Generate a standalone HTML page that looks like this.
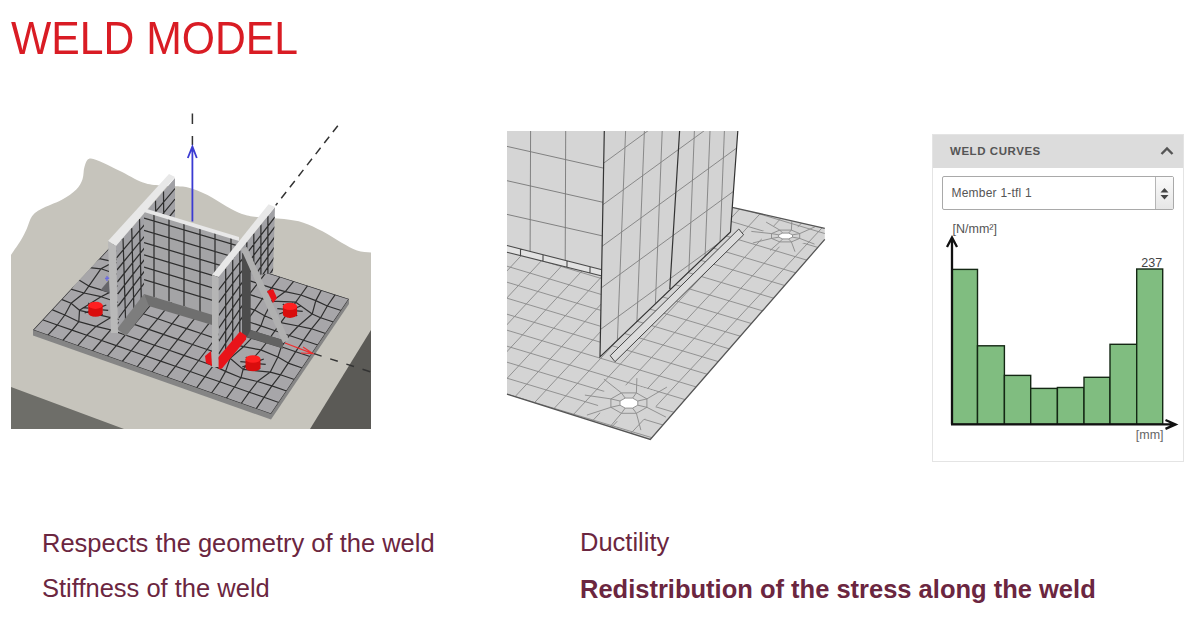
<!DOCTYPE html>
<html><head><meta charset="utf-8">
<style>
html,body{margin:0;padding:0;background:#fff;width:1200px;height:630px;overflow:hidden;position:relative;font-family:"Liberation Sans",sans-serif;}
.abs{position:absolute;}
#title{left:11px;top:11.5px;font-size:46.5px;color:#d91c24;line-height:52px;white-space:nowrap;transform:scaleX(0.918);transform-origin:0 0;}
.txt{position:absolute;font-size:25.5px;color:#6b2640;line-height:30px;white-space:nowrap;}
#panel{left:932px;top:134px;width:250px;height:326px;border:1px solid #e4e4e4;background:#fff;}
#phead{left:0;top:0;width:250px;height:33px;background:#dcdcdc;}
#phead span{position:absolute;left:17px;top:10px;font-size:11.5px;font-weight:bold;color:#555;letter-spacing:0.55px;}
#sel{left:9px;top:41px;width:230px;height:32px;border:1px solid #a9a9a9;border-radius:2px;background:#fff;}
#sel span{position:absolute;left:8.5px;top:8.5px;font-size:12px;color:#555;letter-spacing:0.22px;}
#selbtn{position:absolute;right:0;top:0;width:17px;height:32px;border-left:1px solid #b5b5b5;background:linear-gradient(#fafafa,#e6e6e6);}
</style></head><body>
<svg class="abs" style="left:0;top:0;filter:blur(0.45px)" width="400" height="450" viewBox="0 0 400 450">
<defs><clipPath id="lclip"><rect x="11" y="100" width="360" height="329"/></clipPath></defs>
<g clip-path="url(#lclip)">
<path d="M6.0 262.0C6.9 260.7 8.8 258.1 11.3 254.4C13.8 250.7 18.4 244.3 21.0 240.0C23.6 235.7 25.0 232.6 26.8 228.7C28.6 224.8 29.6 219.6 32.0 216.3C34.4 213.0 36.2 211.8 41.2 209.0C46.2 206.2 56.0 203.1 61.9 199.8C67.8 196.6 72.9 192.9 76.3 189.5C79.7 186.1 81.1 183.0 82.5 179.2C83.9 175.4 83.3 170.2 84.5 166.8C85.7 163.4 86.6 159.3 89.7 158.6C92.8 157.9 98.0 160.6 103.0 162.7C108.0 164.8 113.3 167.7 120.0 171.0C126.7 174.3 136.3 180.1 143.0 182.5C149.7 184.9 154.7 184.9 160.0 185.5C165.3 186.1 170.3 186.0 175.0 186.3C179.7 186.6 182.6 186.1 188.0 187.5C193.4 188.9 201.1 191.8 207.5 195.0C213.9 198.2 220.9 203.2 226.7 206.4C232.4 209.6 236.9 212.2 242.0 214.0C247.1 215.8 250.0 216.2 257.0 217.0C264.0 217.8 276.3 218.1 284.0 219.0C291.7 219.9 297.0 220.6 303.4 222.7C309.8 224.8 316.1 228.0 322.5 231.3C328.9 234.7 335.9 239.6 341.7 242.8C347.4 246.0 352.1 248.9 357.0 250.5C361.9 252.1 367.2 252.0 371.0 252.4C374.8 252.8 378.5 252.9 380.0 253.0L380 440L0 440Z" fill="#c6c4bc"/>
<polygon points="11.0,387.0 124.0,429.0 11.0,429.0" fill="#6e6e69"/>
<polygon points="371.0,330.0 371.0,429.0 310.0,429.0" fill="#5b5a56"/>
<polygon points="33.0,330.0 33.0,335.5 271.0,419.5 349.0,304.0 349.0,299.0 128.0,228.0" fill="#858585"/>
<polygon points="33.0,330.0 271.0,414.0 349.0,299.0 128.0,228.0" fill="#a7a6a9"/>
<clipPath id="c1"><polygon points="33.0,330.0 271.0,414.0 349.0,299.0 128.0,228.0"/></clipPath><g clip-path="url(#c1)"><path d="M8.5 334.9L18.1 324.8L27.7 314.6L37.3 304.5L46.9 294.4L56.6 284.3L66.2 274.2L75.8 264.0L85.4 253.9L95.0 243.8L104.6 233.7L114.2 223.6L123.8 213.4M23.5 340.2L33.0 330.0L42.5 319.8L52.0 309.6L61.5 299.4L71.0 289.2L77.4 279.0L87.4 267.3L99.5 258.6L109.0 248.4L118.5 238.2L128.0 228.0L137.5 217.8M38.5 345.5L47.9 335.2L57.3 325.0L64.8 315.0L71.1 303.2L84.0 293.0L88.8 286.1L100.9 268.8L114.1 261.9L123.0 253.0L132.4 242.7L141.8 232.4L151.2 222.2M53.5 350.9L62.8 340.5L72.0 330.1L78.8 321.7L79.5 310.3L101.0 296.7L109.6 292.4L127.6 277.7L129.8 266.8L137.1 257.6L146.3 247.2L155.6 236.9L164.9 226.5M68.4 356.2L77.6 345.8L86.8 335.3L96.0 326.4L110.8 317.6L119.3 302.7L124.6 294.5L136.2 283.7L142.0 272.6L151.1 262.2L160.3 251.8L169.4 241.3L178.6 230.9M83.4 361.5L92.5 351.0L101.6 340.5L110.7 329.9L121.3 320.1L129.8 308.9L137.9 298.4L146.9 287.9L156.0 277.3L165.1 266.8L174.2 256.3L183.2 245.8L192.3 235.2M98.4 366.9L107.4 356.2L116.3 345.6L125.3 335.0L134.3 324.4L143.2 313.8L152.2 303.2L161.2 292.6L170.2 282.0L179.1 271.4L188.1 260.8L197.1 250.2L206.0 239.6M113.4 372.2L122.2 361.5L131.1 350.8L140.0 340.1L148.8 329.4L157.7 318.8L166.6 308.1L175.4 297.4L184.3 286.7L193.2 276.0L202.0 265.3L210.9 254.6L219.7 243.9M128.4 377.5L137.1 366.8L145.9 356.0L154.6 345.2L163.4 334.4L172.2 323.7L180.9 312.9L189.7 302.1L198.4 291.4L207.2 280.6L215.9 269.8L224.7 259.1L233.4 248.3M143.3 382.9L152.0 372.0L160.7 361.1L169.3 350.3L177.9 339.4L186.6 328.6L195.2 317.8L203.9 306.9L212.6 296.1L221.2 285.2L229.9 274.4L238.5 263.5L247.2 252.6M158.3 388.2L166.9 377.2L175.4 366.3L184.0 355.4L192.5 344.5L201.1 333.5L209.6 322.6L218.1 311.7L226.7 300.7L235.2 289.8L243.8 278.9L252.3 267.9L260.9 257.0M173.3 393.5L181.8 382.5L190.2 371.5L198.6 360.5L207.1 349.5L215.5 338.4L223.9 327.4L232.4 316.4L240.8 305.4L249.2 294.4L257.7 283.4L266.1 272.4L274.6 261.4M188.3 398.8L196.6 387.8L205.0 376.7L213.3 365.6L221.3 354.4L229.9 343.4L238.3 332.3L246.6 321.2L254.6 310.1L262.5 298.7L271.6 287.9L279.9 276.8L288.3 265.7M203.3 404.2L211.5 393.0L219.7 381.8L225.6 371.4L230.1 358.2L243.5 346.7L252.6 337.1L260.9 325.9L264.6 315.8L272.3 301.1L285.3 291.6L293.8 281.2L302.0 270.1M218.3 409.5L226.4 398.2L234.5 387.0L241.0 377.7L243.1 369.4L260.8 349.9L267.0 342.0L275.1 330.7L280.8 322.7L295.8 302.2L300.9 295.0L307.6 285.7L315.7 274.4M233.2 414.8L241.2 403.5L249.3 392.2L257.4 381.5L270.3 372.1L277.9 357.0L281.3 346.8L289.3 335.5L298.3 326.0L312.2 314.0L315.8 300.6L321.4 290.1L329.4 278.8M248.2 420.2L256.1 408.8L264.0 397.3L271.9 385.9L280.4 374.8L288.2 363.1L295.7 351.7L303.6 340.2L311.5 328.8L320.6 317.7L327.3 306.0L335.2 294.6L343.1 283.1M263.2 425.5L271.0 414.0L278.8 402.5L286.6 391.0L294.4 379.5L302.2 368.0L310.0 356.5L317.8 345.0L325.6 333.5L333.4 322.0L341.2 310.5L349.0 299.0L356.8 287.5M278.2 430.8L285.9 419.2L293.6 407.7L301.3 396.1L309.0 384.5L316.6 372.9L324.3 361.3L332.0 349.8L339.7 338.2L347.4 326.6L355.1 315.0L362.8 303.4L370.5 291.9M8.5 334.9L23.5 340.2L38.5 345.5L53.5 350.9L68.4 356.2L83.4 361.5L98.4 366.9L113.4 372.2L128.4 377.5L143.3 382.9L158.3 388.2L173.3 393.5L188.3 398.8L203.3 404.2L218.3 409.5L233.2 414.8L248.2 420.2L263.2 425.5L278.2 430.8M18.1 324.8L33.0 330.0L47.9 335.2L62.8 340.5L77.6 345.8L92.5 351.0L107.4 356.2L122.2 361.5L137.1 366.8L152.0 372.0L166.9 377.2L181.8 382.5L196.6 387.8L211.5 393.0L226.4 398.2L241.2 403.5L256.1 408.8L271.0 414.0L285.9 419.2M27.7 314.6L42.5 319.8L57.3 325.0L72.0 330.1L86.8 335.3L101.6 340.5L116.3 345.6L131.1 350.8L145.9 356.0L160.7 361.1L175.4 366.3L190.2 371.5L205.0 376.7L219.7 381.8L234.5 387.0L249.3 392.2L264.0 397.3L278.8 402.5L293.6 407.7M37.3 304.5L52.0 309.6L64.8 315.0L78.8 321.7L96.0 326.4L110.7 329.9L125.3 335.0L140.0 340.1L154.6 345.2L169.3 350.3L184.0 355.4L198.6 360.5L213.3 365.6L225.6 371.4L241.0 377.7L257.4 381.5L271.9 385.9L286.6 391.0L301.3 396.1M46.9 294.4L61.5 299.4L71.1 303.2L79.5 310.3L110.8 317.6L121.3 320.1L134.3 324.4L148.8 329.4L163.4 334.4L177.9 339.4L192.5 344.5L207.1 349.5L221.3 354.4L230.1 358.2L243.1 369.4L270.3 372.1L280.4 374.8L294.4 379.5L309.0 384.5M56.6 284.3L71.0 289.2L84.0 293.0L101.0 296.7L119.3 302.7L129.8 308.9L143.2 313.8L157.7 318.8L172.2 323.7L186.6 328.6L201.1 333.5L215.5 338.4L229.9 343.4L243.5 346.7L260.8 349.9L277.9 357.0L288.2 363.1L302.2 368.0L316.6 372.9M66.2 274.2L77.4 279.0L88.8 286.1L109.6 292.4L124.6 294.5L137.9 298.4L152.2 303.2L166.6 308.1L180.9 312.9L195.2 317.8L209.6 322.6L223.9 327.4L238.3 332.3L252.6 337.1L267.0 342.0L281.3 346.8L295.7 351.7L310.0 356.5L324.3 361.3M75.8 264.0L87.4 267.3L100.9 268.8L127.6 277.7L136.2 283.7L146.9 287.9L161.2 292.6L175.4 297.4L189.7 302.1L203.9 306.9L218.1 311.7L232.4 316.4L246.6 321.2L260.9 325.9L275.1 330.7L289.3 335.5L303.6 340.2L317.8 345.0L332.0 349.8M85.4 253.9L99.5 258.6L114.1 261.9L129.8 266.8L142.0 272.6L156.0 277.3L170.2 282.0L184.3 286.7L198.4 291.4L212.6 296.1L226.7 300.7L240.8 305.4L254.6 310.1L264.6 315.8L280.8 322.7L298.3 326.0L311.5 328.8L325.6 333.5L339.7 338.2M95.0 243.8L109.0 248.4L123.0 253.0L137.1 257.6L151.1 262.2L165.1 266.8L179.1 271.4L193.2 276.0L207.2 280.6L221.2 285.2L235.2 289.8L249.2 294.4L262.5 298.7L272.3 301.1L295.8 302.2L312.2 314.0L320.6 317.7L333.4 322.0L347.4 326.6M104.6 233.7L118.5 238.2L132.4 242.7L146.3 247.2L160.3 251.8L174.2 256.3L188.1 260.8L202.0 265.3L215.9 269.8L229.9 274.4L243.8 278.9L257.7 283.4L271.6 287.9L285.3 291.6L300.9 295.0L315.8 300.6L327.3 306.0L341.2 310.5L355.1 315.0M114.2 223.6L128.0 228.0L141.8 232.4L155.6 236.9L169.4 241.3L183.2 245.8L197.1 250.2L210.9 254.6L224.7 259.1L238.5 263.5L252.3 267.9L266.1 272.4L279.9 276.8L293.8 281.2L307.6 285.7L321.4 290.1L335.2 294.6L349.0 299.0L362.8 303.4M123.8 213.4L137.5 217.8L151.2 222.2L164.9 226.5L178.6 230.9L192.3 235.2L206.0 239.6L219.7 243.9L233.4 248.3L247.2 252.6L260.9 257.0L274.6 261.4L288.3 265.7L302.0 270.1L315.7 274.4L329.4 278.8L343.1 283.1L356.8 287.5L370.5 291.9M102.4 309.8L108.2 310.4M99.4 312.2L102.7 315.0M94.1 312.8L92.9 316.1M89.7 311.1L84.7 313.0M88.6 308.2L82.8 307.6M91.6 305.8L88.3 303.0M96.9 305.2L98.1 301.9M101.3 306.9L106.3 305.0M296.9 310.8L302.7 311.4M293.9 313.2L297.2 316.0M288.6 313.8L287.4 317.1M284.2 312.1L279.2 314.0M283.1 309.2L277.3 308.6M286.1 306.8L282.8 304.0M291.4 306.2L292.6 302.9M295.8 307.9L300.8 306.0M259.9 363.8L265.7 364.4M256.9 366.2L260.2 369.0M251.6 366.8L250.4 370.1M247.2 365.1L242.2 367.0M246.1 362.2L240.3 361.6M249.1 359.8L245.8 357.0M254.4 359.2L255.6 355.9M258.8 360.9L263.8 359.0" stroke="#2e2e2e" stroke-width="1.2" fill="none" stroke-linejoin="round"/></g>
<polygon points="116.0,246.0 175.0,178.0 175.0,252.0 119.0,330.0" fill="#a1a1a5"/>
<clipPath id="c2"><polygon points="116.0,246.0 175.0,178.0 175.0,252.0 119.0,330.0"/></clipPath><g clip-path="url(#c2)"><path d="M123.0 237.9L125.6 320.7M131.7 227.9L133.9 309.2M139.5 218.9L141.3 298.9M147.5 209.7L148.9 288.4M155.5 200.5L156.5 277.8M163.5 191.3L164.1 267.2M116.4 258.0L175.0 188.6M116.9 270.0L175.0 199.1M117.3 282.0L175.0 209.7M117.7 294.0L175.0 220.3M118.1 306.0L175.0 230.9M118.6 318.0L175.0 241.4" stroke="#2e2e2e" stroke-width="1.25" fill="none" /></g>
<polygon points="144.0,211.0 239.0,239.0 239.0,323.0 144.0,294.0" fill="#a4a4a6"/>
<clipPath id="c3"><polygon points="144.0,211.0 239.0,239.0 239.0,323.0 144.0,294.0"/></clipPath><g clip-path="url(#c3)"><path d="M154.0 213.9L154.0 297.1M169.0 218.4L169.0 301.6M184.0 222.8L184.0 306.2M200.0 227.5L200.0 311.1M215.0 231.9L215.0 315.7M231.0 236.6L231.0 320.6M144.0 218.1L239.0 246.1M144.0 230.3L239.0 258.6M144.0 242.6L239.0 271.0M144.0 254.9L239.0 283.4M144.0 267.2L239.0 295.9M144.0 279.5L239.0 308.3" stroke="#2e2e2e" stroke-width="1.25" fill="none" /></g>
<polygon points="142.0,207.5 239.0,237.0 239.0,241.0 144.0,212.0" fill="#e8e8e8"/>
<polygon points="144.0,294.0 239.0,323.0 239.0,333.0 147.0,305.5" fill="#6f6f6f"/>
<polygon points="144.0,294.0 117.0,329.0 126.0,336.0 149.0,306.0" fill="#7d7d7d"/>
<polygon points="100.5,290.0 109.0,280.0 110.0,293.0" fill="#66666a"/>
<path d="M105 278.5L110 278M107 276V281" stroke="#6a6ae0" stroke-width="1.3"/>
<polygon points="108.0,241.0 169.0,174.0 175.0,177.0 116.0,246.0" fill="#e8e8e8"/>
<polygon points="108.0,241.0 116.0,246.0 118.0,333.0 111.0,333.0" fill="#b9b9b9"/>
<polygon points="218.6,277.0 275.0,207.0 273.0,273.0 251.0,276.0 242.0,333.0 218.6,362.0" fill="#a1a1a5"/>
<clipPath id="rfc"><polygon points="218.6,277.0 275.0,207.0 273.0,273.0 251.0,276.0 242.0,333.0 218.6,362.0"/></clipPath><g clip-path="url(#rfc)"><path d="M225.7 268.2L225.7 355.6M232.7 259.5L232.7 344.2M239.8 250.8L239.8 332.9M246.8 242.0L246.8 321.5M253.8 233.2L253.8 310.1M260.9 224.5L260.9 298.8M267.9 215.8L267.9 287.4M218.6 289.9L275.0 216.9M218.6 302.7L275.0 226.7M218.6 315.6L275.0 236.6M218.6 328.4L275.0 246.4M218.6 341.3L275.0 256.3M218.6 354.1L275.0 266.1" stroke="#2e2e2e" stroke-width="1.25" fill="none" /></g>
<polygon points="212.0,275.0 268.6,204.3 275.0,207.0 218.6,277.0" fill="#e8e8e8"/>
<polygon points="212.0,275.0 218.6,277.0 218.6,367.0 212.0,367.0" fill="#b5b5b5"/>
<polygon points="242.0,253.0 250.7,256.0 250.7,330.0 283.0,340.0 283.0,348.5 242.0,336.0" fill="#4c4c4c"/>
<polygon points="250.7,330.0 283.0,340.0 283.0,348.5 247.0,337.0" fill="#626262"/>
<polygon points="241.0,249.0 247.0,247.0 289.0,340.0 283.0,343.0" fill="#b0b0b0"/>
<polygon points="218.6,357.0 240.0,331.5 246.5,336.0 246.0,339.5 222.0,368.5 218.6,369.0" fill="#e8141a"/>
<polygon points="205.0,356.0 211.0,351.0 212.0,366.0 206.0,363.0" fill="#e8141a"/>
<polygon points="267.0,291.0 273.0,289.0 277.0,298.0 273.0,303.0" fill="#e8141a"/>
<path d="M88.3 305.3L88.3 313.1A7.2 3.6 0 0 0 102.7 313.1L102.7 305.3Z" fill="#d90d0d"/><ellipse cx="95.5" cy="305.3" rx="7.2" ry="3.6" fill="#ff2020"/>
<path d="M282.9 306.4L282.9 314.3A7.1 3.6 0 0 0 297.1 314.3L297.1 306.4Z" fill="#d90d0d"/><ellipse cx="290" cy="306.4" rx="7.1" ry="3.6" fill="#ff2020"/>
<path d="M245.5 359.0L245.5 367.5A7.5 3.8 0 0 0 260.5 367.5L260.5 359.0Z" fill="#d90d0d"/><ellipse cx="253" cy="359" rx="7.5" ry="3.8" fill="#ff2020"/>
<path d="M192.4 113.5V124M192.4 136V145" stroke="#333" stroke-width="1.5"/>
<path d="M192.4 147V221.6M187.8 158L192.4 146.5L196.8 158" stroke="#3b3bd2" stroke-width="1.8" fill="none"/>
<path d="M337.8 125.7L275.7 205.4" stroke="#333" stroke-width="1.5" stroke-dasharray="8 6"/>
<path d="M314 353.6L371 372" stroke="#333" stroke-width="1.4" stroke-dasharray="8 9"/>
<path d="M285 343L312.8 353.6M303 347L312.8 353.6L301 353" stroke="#f03030" stroke-width="1.2" fill="none"/>
</g></svg><svg class="abs" style="left:0;top:0;filter:blur(0.35px)" width="900" height="450" viewBox="0 0 900 450">
<polygon points="732.2,207.3 824.8,228.3 824.8,239.4 650.3,439.4 507.0,394.2 507.0,245.0" fill="#d4d4d4"/>
<clipPath id="mpc"><polygon points="732.2,207.3 824.8,228.3 824.8,239.4 650.3,439.4 507.0,394.2 507.0,245.0"/></clipPath><g clip-path="url(#mpc)">
<path d="M480 130.1L860 244.1M480 146.1L860 260.1M480 162.1L860 276.1M480 178.1L860 292.1M480 194.1L860 308.1M480 210.1L860 324.1M480 226.1L860 340.1M480 242.1L860 356.1M480 258.1L860 372.1M480 274.1L860 388.1M480 290.1L860 404.1M480 306.1L860 420.1M480 322.1L860 436.1M480 338.1L860 452.1M480 354.1L860 468.1M480 370.1L860 484.1M480 386.1L860 500.1M480 402.1L860 516.1M925.3 439.4L1222.9 119.4M900.3 439.4L1197.9 119.4M875.3 439.4L1172.9 119.4M850.3 439.4L1147.9 119.4M825.3 439.4L1122.9 119.4M800.3 439.4L1097.9 119.4M775.3 439.4L1072.9 119.4M750.3 439.4L1047.9 119.4M725.3 439.4L1022.9 119.4M700.3 439.4L997.9 119.4M675.3 439.4L972.9 119.4M650.3 439.4L947.9 119.4M625.3 439.4L922.9 119.4M600.3 439.4L897.9 119.4M575.3 439.4L872.9 119.4M550.3 439.4L847.9 119.4M525.3 439.4L822.9 119.4M500.3 439.4L797.9 119.4M475.3 439.4L772.9 119.4M450.3 439.4L747.9 119.4M425.3 439.4L722.9 119.4M400.3 439.4L697.9 119.4M375.3 439.4L672.9 119.4M350.3 439.4L647.9 119.4" stroke="#8a8a8a" stroke-width="0.9" fill="none"/>
<polygon points="655.5,413.2 637.5,422.5 614.5,421.1 598.7,411.7 597.2,397.3 610.9,385.8 634.7,385.1 656.3,391.6" fill="#d4d4d4"/>
<polygon points="637.8,405.2 632.6,408.1 625.2,408.1 620.0,405.2 620.0,401.0 625.2,398.1 632.6,398.1 637.8,401.0" fill="#fff"/>
<polygon points="806.4,241.8 792.3,247.3 774.4,246.4 762.0,241.0 760.9,232.7 771.6,226.0 790.1,225.6 806.9,229.3" fill="#d4d4d4"/>
<polygon points="792.5,237.2 788.5,238.9 782.7,238.9 778.7,237.2 778.7,234.8 782.7,233.1 788.5,233.1 792.5,234.8" fill="#fff"/>
<path d="M646.9 407.3L636.4 413.3L621.4 413.3L610.9 407.3L610.9 398.9L621.4 392.9L636.4 392.9L646.9 398.9ZM637.8 405.2L632.6 408.1L625.2 408.1L620.0 405.2L620.0 401.0L625.2 398.1L632.6 398.1L637.8 401.0ZM637.8 405.2L646.9 407.3M646.9 407.3L665.9 417.1M632.6 408.1L636.4 413.3M636.4 413.3L640.9 430.1M625.2 408.1L621.4 413.3M621.4 413.3L608.9 428.1M620.0 405.2L610.9 407.3M610.9 407.3L586.9 415.1M620.0 401.0L610.9 398.9M610.9 398.9L584.9 395.1M625.2 398.1L621.4 392.9M621.4 392.9L603.9 379.1M632.6 398.1L636.4 392.9M636.4 392.9L636.9 378.1M637.8 401.0L646.9 398.9M646.9 398.9L666.9 387.1M799.7 238.4L791.4 241.9L779.8 241.9L771.5 238.4L771.5 233.6L779.8 230.1L791.4 230.1L799.7 233.6ZM792.5 237.2L788.5 238.9L782.7 238.9L778.7 237.2L778.7 234.8L782.7 233.1L788.5 233.1L792.5 234.8ZM792.5 237.2L799.7 238.4M799.7 238.4L814.5 244.1M788.5 238.9L791.4 241.9M791.4 241.9L795.0 251.7M782.7 238.9L779.8 241.9M779.8 241.9L770.0 250.5M778.7 237.2L771.5 238.4M771.5 238.4L752.8 243.0M778.7 234.8L771.5 233.6M771.5 233.6L751.3 231.4M782.7 233.1L779.8 230.1M779.8 230.1L766.1 222.1M788.5 233.1L791.4 230.1M791.4 230.1L791.8 221.5M792.5 234.8L799.7 233.6M799.7 233.6L815.2 226.7" stroke="#8a8a8a" stroke-width="0.9" fill="none"/>
</g>
<path d="M732.2 207.3L824.8 228.3M824.8 239.4L650.3 439.4L507 394.2" stroke="#555" stroke-width="1.3" fill="none"/>
<polygon points="507.0,131.0 604.3,131.0 602.0,271.0 507.0,245.5" fill="#d5d5d5"/>
<path d="M530.6 131L530.1 251.8M565.7 131L565.2 261.1M507 146.4L603 168.0M507 180.7L603 202.3M507 214.4L603 236.0" stroke="#777" stroke-width="0.9" fill="none"/>
<polygon points="507.0,245.5 602.0,269.8 602.0,276.0 507.0,252.2" fill="#e2e2e2"/>
<path d="M507 245.5L602 269.8M507 252.2L602 276M520.5 249V255.7M543 254.8V261.5M567 261V267.7M590 267V273" stroke="#4a4a4a" stroke-width="1.1" fill="none"/>
<polygon points="604.3,131.0 737.8,131.0 730.5,231.9 600.0,356.9" fill="#d3d3d3"/>
<clipPath id="mfc"><polygon points="604.3,131.0 737.8,131.0 730.5,231.9 600.0,356.9"/></clipPath><g clip-path="url(#mfc)">
<path d="M625.6 131L616.6 360M644.4 131L635.4 360M662.2 131L653.2 360M694.4 131L685.4 360M710 131L701 360M724.4 131L715.4 360M600 165.8L740 63.6M600 206.8L740 104.6M600 247.8L740 145.6M600 288.8L740 186.6M600 329.8L740 227.6M600 370.8L740 268.6M600 411.8L740 309.6M600 452.8L740 350.6M600 493.8L740 391.6" stroke="#808080" stroke-width="0.9" fill="none"/>
</g>
<path d="M604.3 131L600 356.9L730.5 231.9L737.8 131M679.6 131L669.8 289" stroke="#333" stroke-width="1.2" fill="none"/>
<polygon points="610.2,355.7 738.8,229.0 743.6,234.8 615.0,361.7" fill="#dcdcdc" stroke="#444" stroke-width="1"/>
</svg>
<div id="title" class="abs">WELD MODEL</div>

<div class="txt" style="left:42px;top:528px;">Respects the geometry of the weld</div>
<div class="txt" style="left:42px;top:573px;">Stiffness of the weld</div>
<div class="txt" style="left:580px;top:527px;">Ductility</div>
<div class="txt" style="left:580px;top:574px;font-weight:bold;">Redistribution of the stress along the weld</div>

<div id="panel" class="abs">
  <div id="phead" class="abs"><span>WELD CURVES</span>
    <svg class="abs" style="left:226px;top:10px" width="16" height="12"><path d="M2.5 9L8 3.5L13.5 9" stroke="#555" stroke-width="2.4" fill="none"/></svg>
  </div>
  <div id="sel" class="abs"><span>Member 1-tfl 1</span>
    <div id="selbtn"><svg class="abs" style="left:3px;top:9.5px" width="11" height="14"><path d="M1.5 5.5L5.5 1L9.5 5.5ZM1.5 8L5.5 12.5L9.5 8Z" fill="#444"/></svg></div>
  </div>
</div>
<svg class="abs" style="left:0;top:0" width="1200" height="470" viewBox="0 0 1200 470">
<rect x="952" y="269.4" width="25.5" height="154.9" fill="#80bd80" stroke="#142814" stroke-width="1.4"/>
<rect x="977.5" y="345.8" width="26.9" height="78.5" fill="#80bd80" stroke="#142814" stroke-width="1.4"/>
<rect x="1004.4" y="375.4" width="26.3" height="48.9" fill="#80bd80" stroke="#142814" stroke-width="1.4"/>
<rect x="1030.7" y="388.4" width="26.7" height="35.9" fill="#80bd80" stroke="#142814" stroke-width="1.4"/>
<rect x="1057.4" y="387.5" width="26.6" height="36.8" fill="#80bd80" stroke="#142814" stroke-width="1.4"/>
<rect x="1084" y="377.3" width="26.0" height="47.0" fill="#80bd80" stroke="#142814" stroke-width="1.4"/>
<rect x="1110" y="344.3" width="26.7" height="80.0" fill="#80bd80" stroke="#142814" stroke-width="1.4"/>
<rect x="1136.7" y="269" width="26.0" height="155.3" fill="#80bd80" stroke="#142814" stroke-width="1.4"/>
<path d="M952 424.3V238M947 247L952 237.5L957 247" stroke="#111" stroke-width="2.3" fill="none"/>
<path d="M951 424.4H1174.5M1165.5 420L1175.5 424.4L1165.5 428.8" stroke="#111" stroke-width="2.4" fill="none"/>
<text x="952.5" y="233" font-family="Liberation Sans" font-size="12.5" fill="#555">[N/mm²]</text>
<text x="1141.3" y="266.5" font-family="Liberation Sans" font-size="12.5" fill="#444">237</text>
<text x="1135.8" y="438.6" font-family="Liberation Sans" font-size="12.5" fill="#666">[mm]</text>
</svg>
</body></html>
